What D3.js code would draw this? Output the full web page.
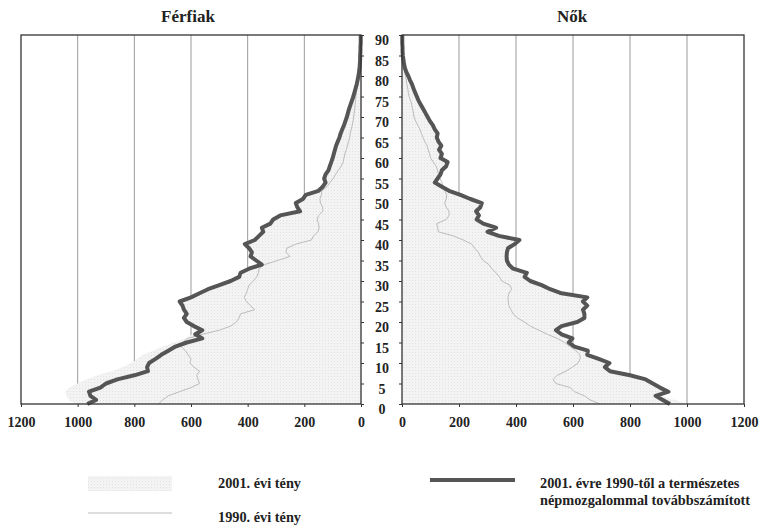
<!DOCTYPE html>
<html>
<head>
<meta charset="utf-8">
<script src="https://cdn.jsdelivr.net/npm/d3@7/dist/d3.min.js"></script>
<style>
html,body{margin:0;padding:0;background:#fff;}
svg{display:block;}
text{font-family:"Liberation Serif","DejaVu Serif",serif;font-weight:bold;fill:#222;}
</style>
</head>
<body>
<svg id="chart" width="761" height="526"></svg>
<script>
// ---- data (ages 0..90) ----
const ages = d3.range(0, 91);
const xTicks = [0, 200, 400, 600, 800, 1000, 1200];
const ageTicks = [0,5,10,15,20,25,30,35,40,45,50,55,60,65,70,75,80,85,90];
const titles = ["Férfiak", "Nők"];
const legendLabels = ["2001. évi tény", "1990. évi tény", "2001. évre 1990-től a természetes", "népmozgalommal továbbszámított"];

// Men: 2001 actual (area)
const men2001 = [1010,1030,1040,1045,1030,1000,970,930,880,840,810,790,770,735,700,660,620,595,585,595,
  610,620,610,620,625,635,595,565,535,495,455,425,420,390,345,365,385,380,390,405,
  370,355,340,345,315,305,280,210,220,225,200,190,145,130,120,125,120,110,105,100,
  95,91,87,83,77,72,68,62,57,52,47,43,39,35,30,25,21,17,14,11,
  8,6,5,4,3,2,2,1,1,1,0];
// Men: 1990 actual (thin line)
const men1990 = [715,700,680,640,600,570,575,580,570,590,604,600,610,620,635,630,612,560,500,460,
  440,430,425,375,390,405,412,405,400,395,380,368,362,360,340,295,250,265,262,230,
  175,168,152,148,150,155,150,135,135,143,145,140,138,120,110,98,90,80,70,63,
  60,57,52,48,44,40,38,34,31,28,26,24,22,21,19,18,16,15,13,12,
  11,10,9,8,7,6,5,4,3,2,1];
// Men: 2001 projected from 1990 (thick line)
const menProj = [966,935,955,960,920,900,860,800,752,755,748,725,705,680,655,615,560,585,560,590,
  615,625,615,625,630,640,600,570,540,500,460,430,425,395,350,370,390,385,395,410,
  375,360,345,350,320,310,285,215,225,230,205,195,150,135,125,130,125,115,110,105,
  100,96,92,88,82,76,72,66,60,55,50,46,42,37,32,27,23,19,15,12,
  9,7,5,4,3,3,2,2,1,1,1];

// Women: 2001 actual (area)
const women2001 = [1000,960,900,930,900,875,850,795,725,707,723,685,645,647,600,580,593,555,535,555,
  610,635,635,630,645,630,645,555,515,485,445,425,433,385,370,363,362,363,367,390,
  407,335,295,325,280,257,265,255,270,275,235,200,160,135,110,120,130,135,150,155,
  130,135,125,133,123,117,120,110,103,93,85,77,69,61,53,47,41,35,30,23,
  17,11,7,5,3,2,1,1,1,0,0];
// Women: 1990 actual (thin line)
const women1990 = [695,660,640,605,590,540,530,545,575,598,618,625,625,610,590,570,545,510,480,450,
  430,405,390,382,375,373,372,375,385,378,350,342,330,315,305,285,275,268,255,245,
  215,180,128,125,122,155,165,165,155,150,155,157,150,145,140,133,128,125,120,110,
  100,97,92,88,80,74,68,63,55,48,42,40,37,34,30,25,22,20,17,15,
  12,10,8,6,5,4,3,3,2,1,1];
// Women: 2001 projected from 1990 (thick line)
const womenProj = [940,915,890,935,905,880,855,800,730,712,728,690,650,652,605,585,598,560,540,560,
  615,640,640,635,650,635,650,560,520,490,450,430,438,390,375,368,367,368,372,395,
  412,340,300,330,285,262,270,260,275,280,240,205,165,140,115,125,135,140,155,160,
  135,140,130,138,128,122,125,115,108,98,90,82,74,66,58,52,46,40,35,28,
  22,15,10,7,5,3,2,2,1,1,1];

// ---- drawing ----
const svg = d3.select("#chart");
const yAge = d3.scaleLinear().domain([0, 90]).range([404, 35]);
const xL = d3.scaleLinear().domain([0, 1200]).range([361, 21]);
const xR = d3.scaleLinear().domain([0, 1200]).range([402, 744]);

const fillCol = "#f3f3f3", thinCol = "#bcbcbc", thickCol = "#555555", gridCol = "#8f8f8f", axisCol = "#333";

// light stipple pattern for the 2001 area
const defs = svg.append("defs");
const pat = defs.append("pattern").attr("id", "stip").attr("width", 3).attr("height", 3)
  .attr("patternUnits", "userSpaceOnUse");
pat.append("rect").attr("width", 3).attr("height", 3).attr("fill", fillCol);
pat.append("rect").attr("x", 1).attr("y", 1).attr("width", 1).attr("height", 1).attr("fill", "#e2e2e2");

function panel(x, actual, old, proj, side) {
  const g = svg.append("g");
  g.selectAll("line.grid").data(xTicks.filter(t => t > 0 && t < 1200)).enter().append("line")
    .attr("x1", d => x(d)).attr("x2", d => x(d))
    .attr("y1", yAge(90)).attr("y2", yAge(0))
    .attr("stroke", gridCol).attr("stroke-width", 0.9);
  const area = d3.area().x0(x(0)).x1(d => x(d)).y((d, i) => yAge(ages[i]));
  g.append("path").datum(actual).attr("d", area).attr("fill", "url(#stip)");
  const line = d3.line().x(d => x(d)).y((d, i) => yAge(ages[i]));
  g.append("path").datum(old).attr("d", line).attr("fill", "none")
    .attr("stroke", thinCol).attr("stroke-width", 1);
  g.append("path").datum(proj).attr("d", line).attr("fill", "none")
    .attr("stroke", thickCol).attr("stroke-width", 4).attr("stroke-linejoin", "round");
  g.append("rect").attr("x", Math.min(x(0), x(1200))).attr("y", yAge(90))
    .attr("width", Math.abs(x(1200) - x(0))).attr("height", yAge(0) - yAge(90))
    .attr("fill", "none").attr("stroke", axisCol).attr("stroke-width", 1.3);
  const ax = g.append("g").attr("transform", `translate(0,${yAge(0)})`)
    .call(d3.axisBottom(x).tickValues(xTicks).tickSize(3).tickPadding(10).tickFormat(d3.format("d")));
  ax.select(".domain").remove();
  ax.selectAll("line").attr("stroke", axisCol);
  ax.selectAll("text").attr("font-size", 14).attr("font-family", null).attr("fill", "#222");
  const ay = g.append("g").attr("transform", `translate(${x(0)},0)`)
    .call((side === "L" ? d3.axisRight(yAge) : d3.axisLeft(yAge)).tickValues(ageTicks).tickSize(3).tickFormat(""));
  ay.select(".domain").remove();
  ay.selectAll("line").attr("stroke", axisCol);
}

panel(xL, men2001, men1990, menProj, "L");
panel(xR, women2001, women1990, womenProj, "R");

svg.append("g").selectAll("text").data(ageTicks).enter().append("text")
  .attr("x", 382).attr("y", d => yAge(d) + 10)
  .attr("text-anchor", "middle").attr("font-size", 14).text(d => d);

svg.append("text").attr("x", 188).attr("y", 22).attr("text-anchor", "middle")
  .attr("font-size", 17).text(titles[0]);
svg.append("text").attr("x", 572).attr("y", 22).attr("text-anchor", "middle")
  .attr("font-size", 17).text(titles[1]);

const lg = svg.append("g");
lg.append("rect").attr("x", 88).attr("y", 476).attr("width", 84).attr("height", 15).attr("fill", "url(#stip)");
lg.append("text").attr("x", 218).attr("y", 488).attr("font-size", 14.3).text(legendLabels[0]);
lg.append("line").attr("x1", 88).attr("x2", 172).attr("y1", 513).attr("y2", 513)
  .attr("stroke", thinCol).attr("stroke-width", 1);
lg.append("text").attr("x", 218).attr("y", 522).attr("font-size", 14.3).text(legendLabels[1]);
lg.append("line").attr("x1", 430).attr("x2", 515).attr("y1", 480).attr("y2", 480)
  .attr("stroke", thickCol).attr("stroke-width", 4);
lg.append("text").attr("x", 540).attr("y", 488).attr("font-size", 14.3).text(legendLabels[2]);
lg.append("text").attr("x", 540).attr("y", 505).attr("font-size", 14.3).text(legendLabels[3]);
</script>
</body>
</html>
